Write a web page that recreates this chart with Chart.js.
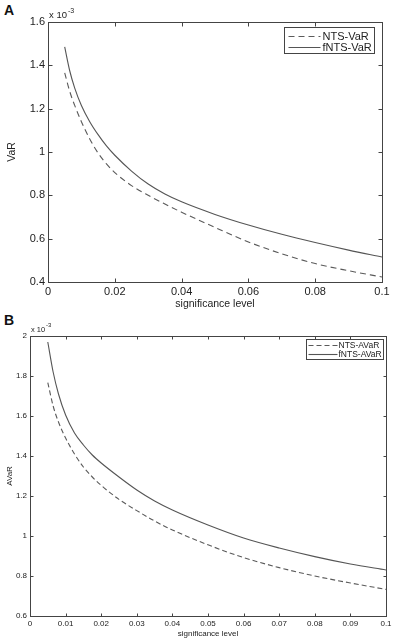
<!DOCTYPE html>
<html>
<head>
<meta charset="utf-8">
<script src="https://cdn.jsdelivr.net/npm/chart.js@4.4.0/dist/chart.umd.min.js"></script>
<style>
  html, body { margin: 0; padding: 0; background: #fff; }
  body { width: 397px; height: 640px; position: relative; overflow: hidden; font-family: "Liberation Sans", Arial, sans-serif; }
  canvas { position: absolute; left: 0; }
  #chartA { top: 0; }
  #chartB { top: 312px; }
  .panel { position: absolute; font-weight: bold; font-size: 14px; line-height: 14px; color: #111; }
  .exp { position: absolute; color: #222; white-space: nowrap; line-height: 1; }
</style>
</head>
<body>
<div class="panel" style="left:4px;top:3px;">A</div>
<div class="panel" style="left:4px;top:313px;">B</div>
<canvas id="chartA" width="397" height="312"></canvas>
<canvas id="chartB" width="397" height="328"></canvas>
<div class="exp" style="left:49px;top:10px;font-size:9.5px;">x 10</div>
<div class="exp" style="left:68px;top:7px;font-size:7px;">-3</div>
<div class="exp" style="left:31px;top:326px;font-size:7.5px;">x 10</div>
<div class="exp" style="left:46px;top:322px;font-size:6px;">-3</div>
<script>
// significance levels (x), shared by both panels
var sigLevels = [0.005, 0.0065, 0.008, 0.01, 0.0125, 0.015, 0.0175, 0.02, 0.025, 0.03, 0.035, 0.04, 0.05, 0.06, 0.07, 0.08, 0.09, 0.1];

// panel A, values in units of 10^-3
var ntsVaR  = [1.365, 1.28, 1.215, 1.14, 1.06, 0.995, 0.945, 0.905, 0.845, 0.80, 0.76, 0.722, 0.652, 0.585, 0.53, 0.485, 0.452, 0.423];
var fntsVaR = [1.485, 1.375, 1.295, 1.215, 1.14, 1.08, 1.028, 0.985, 0.912, 0.852, 0.806, 0.77, 0.712, 0.663, 0.62, 0.582, 0.547, 0.515];

// panel B, values in units of 10^-3
var ntsAVaR  = [1.767, 1.65, 1.57, 1.49, 1.41, 1.345, 1.295, 1.253, 1.183, 1.127, 1.075, 1.03, 0.956, 0.892, 0.842, 0.80, 0.765, 0.733];
var fntsAVaR = [1.97, 1.82, 1.71, 1.605, 1.515, 1.455, 1.405, 1.365, 1.295, 1.23, 1.175, 1.13, 1.055, 0.99, 0.94, 0.897, 0.86, 0.83];

var xTicksA = [0, 0.02, 0.04, 0.06, 0.08, 0.1];
var yTicksA = [0.4, 0.6, 0.8, 1, 1.2, 1.4, 1.6];
var xTicksB = [0, 0.01, 0.02, 0.03, 0.04, 0.05, 0.06, 0.07, 0.08, 0.09, 0.1];
var yTicksB = [0.6, 0.8, 1, 1.2, 1.4, 1.6, 1.8, 2];

Chart.defaults.font.family = '"Liberation Sans", Arial, sans-serif';
Chart.defaults.color = '#222';

function toPoints(xs, ys) {
    return xs.map(function (x, i) { return { x: x, y: ys[i] }; });
}

function fmt(v) {
    return String(+v.toFixed(4));
}

// matlab style box, inward ticks on all sides and framed legend
var boxPlugin = {
    id: 'matlabBox',
    afterDraw: function (chart, args, opts) {
        var ctx = chart.ctx;
        var a = chart.chartArea;
        var xs = chart.scales.x, ys = chart.scales.y;
        var L = opts.tickLen;
        ctx.save();
        ctx.setLineDash([]);
        ctx.strokeStyle = '#444';
        ctx.lineWidth = 1;
        var l = Math.round(a.left) + 0.5, r = Math.round(a.right) + 0.5;
        var t = Math.round(a.top) + 0.5, b = Math.round(a.bottom) + 0.5;
        ctx.strokeRect(l, t, r - l, b - t);
        ctx.beginPath();
        xs.ticks.forEach(function (tk) {
            var px = Math.round(xs.getPixelForValue(tk.value)) + 0.5;
            ctx.moveTo(px, b); ctx.lineTo(px, b - L);
            ctx.moveTo(px, t); ctx.lineTo(px, t + L);
        });
        ys.ticks.forEach(function (tk) {
            var py = Math.round(ys.getPixelForValue(tk.value)) + 0.5;
            ctx.moveTo(l, py); ctx.lineTo(l + L, py);
            ctx.moveTo(r, py); ctx.lineTo(r - L, py);
        });
        ctx.stroke();

        // legend
        var lg = opts.legend;
        ctx.font = lg.fontSize + 'px "Liberation Sans", Arial, sans-serif';
        var maxW = 0;
        chart.data.datasets.forEach(function (ds) {
            maxW = Math.max(maxW, ctx.measureText(ds.label).width);
        });
        var w = Math.round(lg.textStart + maxW + lg.padRight);
        var bx = Math.round(a.right - lg.dx - w) + 0.5;
        var by = Math.round(a.top + lg.dy) + 0.5;
        ctx.fillStyle = '#fff';
        ctx.fillRect(bx, by, w, lg.height);
        ctx.strokeStyle = '#444';
        ctx.strokeRect(bx, by, w, lg.height);
        ctx.textBaseline = 'middle';
        ctx.textAlign = 'left';
        chart.data.datasets.forEach(function (ds, i) {
            var yy = Math.round(by + lg.firstRow + i * lg.rowGap) + 0.5;
            ctx.beginPath();
            ctx.strokeStyle = ds.borderColor;
            ctx.lineWidth = ds.borderWidth;
            ctx.setLineDash(ds.borderDash || []);
            ctx.moveTo(bx + lg.lineStart, yy);
            ctx.lineTo(bx + lg.lineEnd, yy);
            ctx.stroke();
            ctx.fillStyle = '#222';
            ctx.fillText(ds.label, bx + lg.textStart, yy);
        });
        ctx.restore();
    }
};

function makeChart(id, c) {
    return new Chart(document.getElementById(id).getContext('2d'), {
        type: 'line',
        data: {
            datasets: [{
                label: c.labels[0],
                data: toPoints(sigLevels, c.dashed),
                borderColor: '#5a5a5a',
                borderWidth: 1.1,
                borderDash: c.dash,
                pointRadius: 0,
                cubicInterpolationMode: 'monotone'
            }, {
                label: c.labels[1],
                data: toPoints(sigLevels, c.solid),
                borderColor: '#555',
                borderWidth: 1.1,
                pointRadius: 0,
                cubicInterpolationMode: 'monotone'
            }]
        },
        options: {
            responsive: false,
            animation: false,
            devicePixelRatio: 1,
            layout: { padding: c.padding },
            plugins: {
                legend: { display: false },
                tooltip: { enabled: false },
                matlabBox: { tickLen: c.tickLen, legend: c.legend }
            },
            scales: {
                x: {
                    type: 'linear',
                    min: 0,
                    max: 0.1,
                    afterBuildTicks: function (s) { s.ticks = c.xTicks.map(function (v) { return { value: v }; }); },
                    afterFit: function (s) { s.height = c.xHeight; },
                    grid: { display: false, drawTicks: false },
                    border: { display: false },
                    ticks: { font: { size: c.tickFont }, padding: c.xPad, maxRotation: 0, autoSkip: false, callback: fmt },
                    title: { display: true, text: 'significance level', font: { size: c.titleFont }, padding: { top: 0, bottom: c.xTitlePad } }
                },
                y: {
                    min: c.yMin,
                    max: c.yMax,
                    afterBuildTicks: function (s) { s.ticks = c.yTicks.map(function (v) { return { value: v }; }); },
                    afterFit: function (s) { s.width = c.yWidth; },
                    grid: { display: false, drawTicks: false },
                    border: { display: false },
                    ticks: { font: { size: c.tickFont }, padding: 3, autoSkip: false, callback: fmt },
                    title: { display: true, text: c.yTitle, font: { size: c.titleFont }, padding: { top: c.yTitlePad, bottom: 0 } }
                }
            }
        },
        plugins: [boxPlugin]
    });
}

makeChart('chartA', {
    labels: ['NTS-VaR', 'fNTS-VaR'],
    dashed: ntsVaR,
    solid: fntsVaR,
    dash: [6, 4],
    xTicks: xTicksA,
    yTicks: yTicksA,
    yMin: 0.4,
    yMax: 1.6,
    yTitle: 'VaR',
    padding: { left: 0, top: 22, right: 15, bottom: 0 },
    xHeight: 30,
    yWidth: 48,
    tickFont: 11,
    titleFont: 10.5,
    xPad: 3,
    xTitlePad: 1.7,
    yTitlePad: 5.7,
    tickLen: 4,
    legend: { fontSize: 11, dx: 7.7, dy: 5.3, height: 26, lineStart: 4, lineEnd: 36, textStart: 38, padRight: 3, firstRow: 8.4, rowGap: 11 }
});

makeChart('chartB', {
    labels: ['NTS-AVaR', 'fNTS-AVaR'],
    dashed: ntsAVaR,
    solid: fntsAVaR,
    dash: [5, 3],
    xTicks: xTicksB,
    yTicks: yTicksB,
    yMin: 0.6,
    yMax: 2,
    yTitle: 'AVaR',
    padding: { left: 0, top: 24, right: 11, bottom: 0 },
    xHeight: 24,
    yWidth: 30,
    tickFont: 8,
    titleFont: 8,
    xPad: 2.5,
    xTitlePad: 1.9,
    yTitlePad: 5.2,
    tickLen: 3,
    legend: { fontSize: 8.5, dx: 2.7, dy: 3.3, height: 20, lineStart: 2, lineEnd: 31, textStart: 32, padRight: 2, firstRow: 5.7, rowGap: 9 }
});
</script>
</body>
</html>
